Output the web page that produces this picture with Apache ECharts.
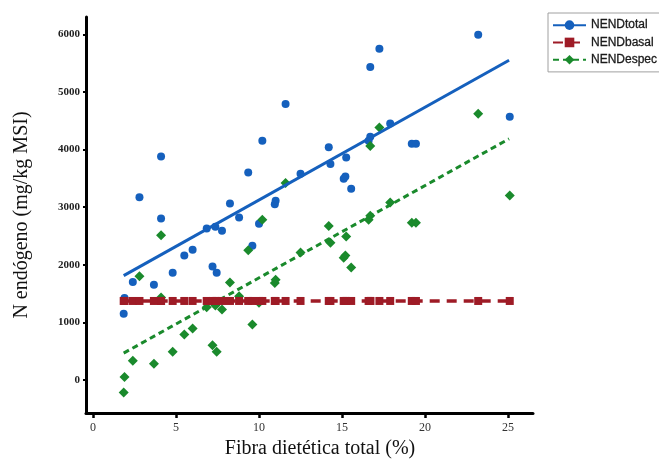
<!DOCTYPE html>
<html>
<head>
<meta charset="utf-8">
<script src="https://cdn.jsdelivr.net/npm/echarts@6/dist/echarts.min.js"></script>
<style>
  html, body { margin: 0; padding: 0; background: #ffffff; }
  #chart { width: 659px; height: 471px; }
</style>
</head>
<body>
<div id="chart"></div>
<script>
// Total dietary fibre (%) of each diet
const fibra = [1.85, 1.9, 2.4, 2.8, 3.67, 4.1, 4.1, 4.8, 5.5, 6.0,
               6.85, 7.2, 7.37, 7.45, 7.77, 8.25, 8.8, 9.35, 9.6, 10.0,
               10.2, 10.95, 11.0, 11.6, 12.5, 14.2, 14.3, 15.1, 15.2, 15.25,
               15.55, 16.6, 16.7, 16.7, 17.25, 17.9, 19.2, 19.45, 23.2, 25.1];

// Endogenous N, total (mg/kg MSI)
const nendTotal = [1150, 1420, 1700, 3170, 1650, 3880, 2800, 1860, 2160, 2260,
                   2630, 1970, 2660, 1860, 2590, 3060, 2820, 3600, 2330, 2710,
                   4150, 3050, 3110, 4790, 3580, 4040, 3750, 3490, 3530, 3860,
                   3320, 4150, 4220, 5430, 5750, 4450, 4100, 4100, 5990, 4570];

// Endogenous N, basal (mg/kg MSI)
const nendBasal = [1370, 1370, 1370, 1370, 1370, 1370, 1370, 1370, 1370, 1370,
                   1370, 1370, 1370, 1370, 1370, 1370, 1370, 1370, 1370, 1370,
                   1370, 1370, 1370, 1370, 1370, 1370, 1370, 1370, 1370, 1370,
                   1370, 1370, 1370, 1370, 1370, 1370, 1370, 1370, 1370, 1370];

// Endogenous N, specific (mg/kg MSI)
const nendEspec = [-220, 50, 330, 1800, 280, 2510, 1430, 490, 790, 890,
                   1260, 600, 1290, 490, 1220, 1690, 1450, 2250, 960, 1340,
                   2780, 1680, 1740, 3420, 2210, 2670, 2380, 2120, 2160, 2490,
                   1950, 2780, 2850, 4060, 4380, 3080, 2730, 2730, 4620, 3200];

// Fitted regression lines (end points)
const trendX = [1.85, 25.06];
const trendTotal = [1810, 5550];
const trendEspec = [465, 4185];

const xTicks = [0, 5, 10, 15, 20, 25];
const yTicks = [0, 1000, 2000, 3000, 4000, 5000, 6000];

const BLUE = '#1560bd';
const RED = '#9e1b26';
const GREEN = '#1a8a2c';

const pairs = (xs, ys) => xs.map((x, i) => [x, ys[i]]);

const chart = echarts.init(document.getElementById('chart'), null, { renderer: 'canvas' });

chart.setOption({
  backgroundColor: '#ffffff',
  animation: false,
  grid: { left: 86, right: 126, top: 17, bottom: 58, containLabel: false },
  legend: {
    orient: 'vertical',
    left: 548,
    top: 13,
    data: ['NENDtotal', 'NENDbasal', 'NENDespec'],
    itemWidth: 33,
    itemHeight: 12,
    itemGap: 5,
    padding: [6, 14, 6, 4],
    borderColor: '#a0a0a0',
    borderWidth: 1,
    textStyle: { fontFamily: 'Liberation Sans', fontSize: 12, color: '#1a1a1a', textBorderColor: '#1a1a1a', textBorderWidth: 0.3 }
  },
  xAxis: {
    type: 'value',
    min: -0.42,
    max: 26.5,
    name: 'Fibra dietética total (%)',
    nameLocation: 'middle',
    nameGap: 26,
    nameTextStyle: { fontFamily: 'Liberation Serif', fontSize: 20, color: '#111', padding: [0, 0, 0, 21] },
    axisLine: { onZero: false, lineStyle: { color: '#000', width: 3 } },
    axisTick: { show: true, length: 5, customValues: xTicks, lineStyle: { color: '#000', width: 2.5 } },
    axisLabel: { customValues: xTicks, margin: 9, fontFamily: 'Liberation Serif', fontSize: 12, color: '#333' },
    splitLine: { show: false }
  },
  yAxis: {
    type: 'value',
    min: -575,
    max: 6300,
    name: 'N endógeno (mg/kg MSI)',
    nameLocation: 'middle',
    nameGap: 54,
    nameTextStyle: { fontFamily: 'Liberation Serif', fontSize: 20, color: '#111' },
    axisLine: { onZero: false, lineStyle: { color: '#000', width: 3 } },
    axisTick: { show: true, length: 3, customValues: yTicks, lineStyle: { color: '#000', width: 2 } },
    axisLabel: {
      customValues: yTicks,
      formatter: (v) => String(v),
      margin: 6,
      fontFamily: 'Liberation Serif',
      fontSize: 11,
      fontWeight: 'bold',
      color: '#222'
    },
    splitLine: { show: false }
  },
  series: [
    {
      name: 'NENDtotal',
      type: 'line',
      data: pairs(trendX, trendTotal),
      symbol: 'circle',
      showSymbol: false,
      lineStyle: { color: BLUE, width: 3 },
      itemStyle: { color: BLUE },
      silent: true
    },
    {
      name: 'NENDtotal',
      type: 'scatter',
      data: pairs(fibra, nendTotal),
      symbol: 'circle',
      symbolSize: 8,
      itemStyle: { color: BLUE, opacity: 1 }
    },
    {
      name: 'NENDbasal',
      type: 'line',
      data: pairs(fibra, nendBasal),
      symbol: 'rect',
      symbolSize: 8,
      showSymbol: true,
      lineStyle: { color: RED, width: 3.5, type: [10, 7] },
      itemStyle: { color: RED, opacity: 1 }
    },
    {
      name: 'NENDespec',
      type: 'line',
      data: pairs(trendX, trendEspec),
      symbol: 'diamond',
      showSymbol: false,
      lineStyle: { color: GREEN, width: 3, type: [6, 4] },
      itemStyle: { color: GREEN },
      silent: true
    },
    {
      name: 'NENDespec',
      type: 'scatter',
      data: pairs(fibra, nendEspec),
      symbol: 'diamond',
      symbolSize: 10,
      itemStyle: { color: GREEN, opacity: 1 }
    }
  ]
});
</script>
</body>
</html>
